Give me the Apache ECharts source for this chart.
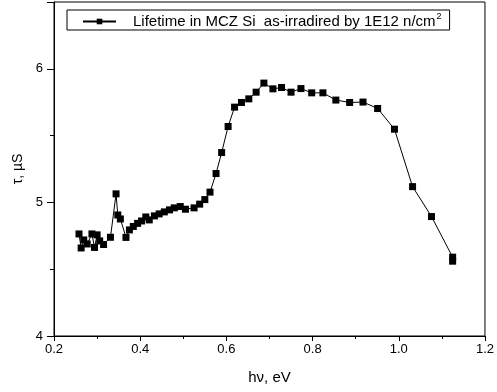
<!DOCTYPE html>
<html>
<head>
<meta charset="utf-8">
<script src="https://cdn.jsdelivr.net/npm/echarts@6/dist/echarts.min.js"></script>
<style>html,body{margin:0;padding:0;background:#fff}#c{width:497px;height:392px}</style>
</head>
<body>
<div id="c"></div>
<script>
var seriesName = 'Lifetime in MCZ Si  as-irradired by 1E12 n/cm2';
var energy = [0.258,0.263,0.269,0.277,0.288,0.294,0.300,0.306,0.315,0.331,0.344,0.348,0.354,0.367,0.375,0.384,0.394,0.403,0.413,0.421,0.433,0.444,0.456,0.468,0.479,0.493,0.505,0.525,0.538,0.550,0.562,0.576,0.589,0.604,0.619,0.635,0.652,0.669,0.687,0.708,0.728,0.750,0.773,0.798,0.824,0.854,0.886,0.917,0.951,0.990,1.032,1.076,1.125,1.125];
var lifetime = [4.764,4.659,4.719,4.689,4.764,4.663,4.757,4.712,4.685,4.739,5.064,4.906,4.876,4.738,4.794,4.820,4.843,4.861,4.891,4.869,4.899,4.914,4.929,4.944,4.959,4.969,4.949,4.959,4.987,5.021,5.077,5.216,5.373,5.568,5.713,5.748,5.775,5.825,5.893,5.850,5.860,5.825,5.852,5.820,5.820,5.766,5.748,5.751,5.703,5.548,5.118,4.894,4.59,4.56];
var xTickLabels = ['0.2','0.4','0.6','0.8','1.0','1.2'];
var yTickLabels = ['4','5','6'];

var data = energy.map(function(x, i){ return [x, lifetime[i]]; });
var font = 'Liberation Sans, Arial, sans-serif';
var chart = echarts.init(document.getElementById('c'));
chart.setOption({
  backgroundColor: '#fff',
  animation: false,
  grid: {left: 54, right: 10.5, top: 2, bottom: 56, show: true, borderColor: '#000', borderWidth: 1},
  legend: {
    left: 67, top: 10,
    padding: [2, 8, 1, 15],
    borderColor: '#000', borderWidth: 1,
    itemWidth: 33, itemHeight: 7, itemGap: 0,
    data: [seriesName],
    formatter: function(){ return '{a|Lifetime in MCZ Si  as-irradired by 1E12 n/cm}{s|2}'; },
    textStyle: {
      color: '#000', fontFamily: font, fontSize: 15,
      rich: {
        a: {fontFamily: font, fontSize: 15, color: '#000', padding: [0,0,0,12]},
        s: {fontFamily: font, fontSize: 9, color: '#000', padding: [0,0,10,1]}
      }
    }
  },
  xAxis: {
    type: 'value', min: 0.2, max: 1.2, interval: 0.2,
    name: 'hν, eV', nameLocation: 'middle', nameGap: 34,
    nameTextStyle: {fontFamily: font, fontSize: 15, color: '#000'},
    axisLine: {onZero: false, lineStyle: {color: '#000', width: 1}},
    axisTick: {show: true, length: 5, lineStyle: {color: '#000'}},
    minorTick: {show: true, splitNumber: 2, length: 3, lineStyle: {color: '#000'}},
    splitLine: {show: false},
    axisLabel: {fontFamily: font, fontSize: 13, color: '#000', margin: 7,
      formatter: function(v){ var i = Math.round((v-0.2)/0.2); return xTickLabels[i] || ''; }}
  },
  yAxis: {
    type: 'value', min: 4, max: 6.5, interval: 1,
    name: 'τ, µS', nameLocation: 'middle', nameGap: 27,
    nameTextStyle: {fontFamily: font, fontSize: 14, color: '#000'},
    axisLine: {onZero: false, lineStyle: {color: '#000', width: 1}},
    axisTick: {show: true, length: 7, lineStyle: {color: '#000'}},
    minorTick: {show: true, splitNumber: 2, length: 4, lineStyle: {color: '#000'}},
    splitLine: {show: false},
    axisLabel: {fontFamily: font, fontSize: 13, color: '#000', margin: 11,
      formatter: function(v){ var i = Math.round(v-4); return (Math.abs(v-4-i)<1e-6 && yTickLabels[i]) ? yTickLabels[i] : ''; }}
  },
  series: [{
    name: seriesName,
    type: 'line',
    data: data,
    symbol: 'rect', symbolSize: 7,
    showAllSymbol: true,
    itemStyle: {color: '#000'},
    lineStyle: {color: '#000', width: 1}
  }]
});
</script>
</body>
</html>
